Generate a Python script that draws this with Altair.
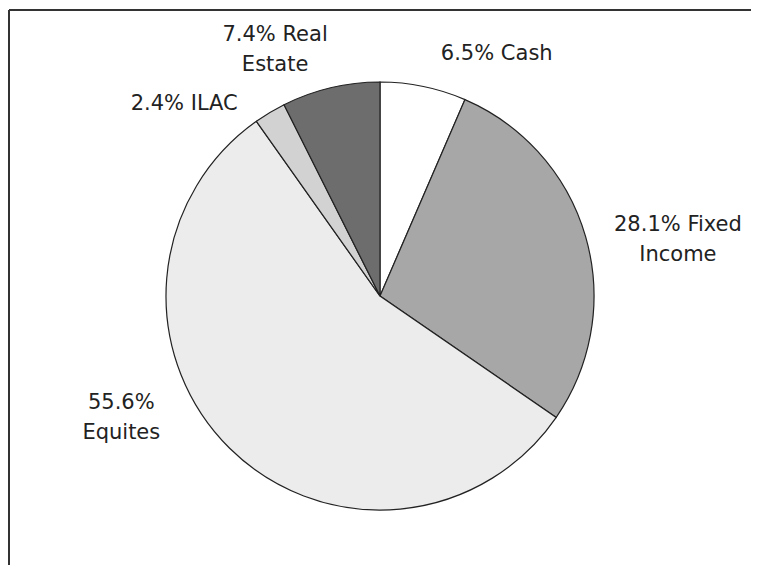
import altair as alt
import pandas as pd

categories = ["Cash", "Fixed Income", "Equites", "ILAC", "Real Estate"]
values = [6.5, 28.1, 55.6, 2.4, 7.4]
labels = [["6.5% Cash"], ["28.1% Fixed", "Income"], ["55.6%", "Equites"], ["2.4% ILAC"], ["7.4% Real", "Estate"]]
colors = ["#ffffff", "#a7a7a7", "#ececec", "#d2d2d2", "#6d6d6d"]

# label offsets (style) relative to mid-angle point at label radius
label_dx = [64, 48, -76, -62, -45]
label_dy = [19, 7, -72, 37, -2]

df = pd.DataFrame({
    "category": categories,
    "value": values,
    "order": list(range(len(categories))),
})
df["label"] = labels

W, H = 743, 557
CX, CY = 372, 288
R = 214
LR = 260

pie = alt.Chart(df).mark_arc(radius=R, stroke="#222222", strokeWidth=1.2).encode(
    theta=alt.Theta("value:Q", stack=True, scale=alt.Scale(domain=[0, 100])),
    order=alt.Order("order:Q"),
    color=alt.Color("category:N", scale=alt.Scale(domain=categories, range=colors), legend=None),
    x=alt.value(CX),
    y=alt.value(CY),
)

text_layers = []
for i, cat in enumerate(categories):
    t = alt.Chart(df).transform_window(
        cum="sum(value)", sort=[alt.SortField("order")]
    ).transform_calculate(
        mid="datum.cum - datum.value / 2"
    ).transform_filter(
        alt.datum.category == cat
    ).mark_text(
        radius=LR, dx=label_dx[i], dy=label_dy[i], font="DejaVu Sans", fontSize=21,
        color="#222222", lineHeight=30, align="center", baseline="alphabetic",
    ).encode(
        theta=alt.Theta("mid:Q", stack=None, scale=alt.Scale(domain=[0, 100])),
        text="label",
        x=alt.value(CX),
        y=alt.value(CY),
    )
    text_layers.append(t)

frame_top = alt.Chart(df).mark_rule(color="#333333", strokeWidth=2).encode(
    x=alt.value(1), x2=alt.value(W), y=alt.value(2)
)
frame_left = alt.Chart(df).mark_rule(color="#333333", strokeWidth=2).encode(
    x=alt.value(1), y=alt.value(2), y2=alt.value(H)
)

chart = alt.layer(pie, *text_layers, frame_top, frame_left).properties(
    width=W, height=H, padding=0, autosize="none"
).configure_view(stroke=None)

chart.save("out.html", embed_options={"renderer": "svg", "actions": False})
